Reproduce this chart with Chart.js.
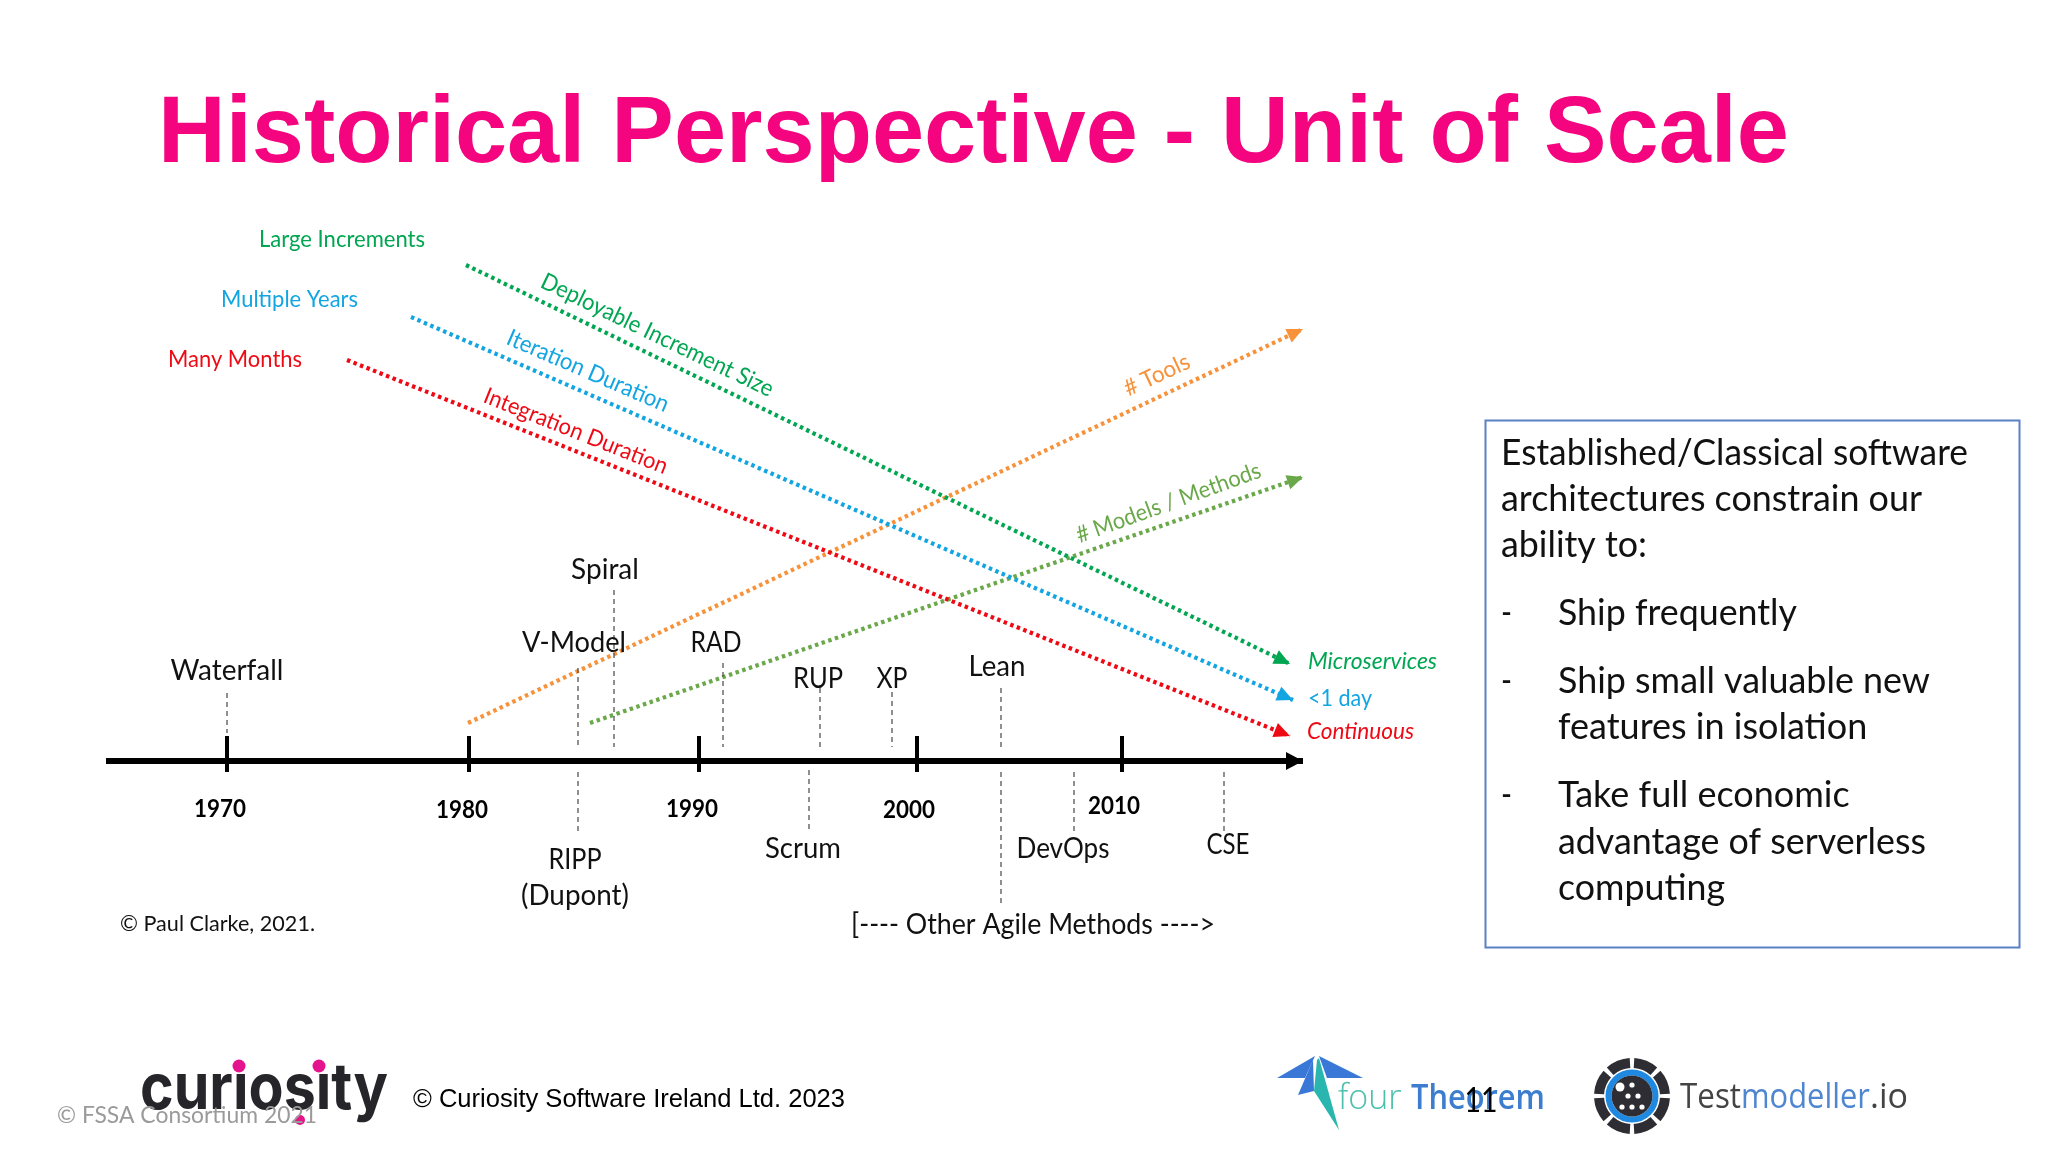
<!DOCTYPE html>
<html>
<head>
<meta charset="utf-8">
<style>
html,body{margin:0;padding:0;background:#fff;width:2048px;height:1152px;overflow:hidden}
#wrap{position:absolute;left:0;top:0;width:2048px;height:1152px}
canvas{display:block}
</style>
<script src="https://cdn.jsdelivr.net/npm/chart.js@4/dist/chart.umd.min.js"></script>
</head>
<body>
<div id="wrap"><canvas id="c" width="2048" height="1152"></canvas></div>
<script>
// ---- Series: schematic trend arrows, [start, end] (slide units)
const deployableX = [466, 1290];  const deployableY = [265, 664];
const iterationX  = [411, 1293];  const iterationY  = [317, 700];
const integrationX= [347, 1290];  const integrationY= [360, 736];
const toolsX      = [468, 1303];  const toolsY      = [723, 329];
const modelsX     = [590, 1303];  const modelsY     = [723, 477];

// ---- Timeline
const timelineX = [106, 1303];    const timelineY = [761, 761];
const decadeLabels = ['1970','1980','1990','2000','2010'];
const decadeX = [227, 469, 699, 917, 1122];
const decadeLabelX = [220, 462, 692, 909, 1114];
const decadeLabelY = [817, 818, 817, 818, 814];
const tickTop = 736, tickBottom = 772;

// ---- Methods and their leader lines
const methodNames = ['Waterfall','V-Model','Spiral','RAD','RUP','XP','Lean','Scrum','DevOps','CSE','RIPP','(Dupont)','[---- Other Agile Methods ---->'];
const methodLabelX = [227, 574, 605, 716, 818, 892, 997, 803, 1063, 1228, 575, 575, 1033];
const methodLabelY = [680, 652, 579, 652, 688, 688, 676, 858, 858, 854, 869, 905, 934];
const methodWidth  = [113, 104, 68, 51, 50, 31, 57, 76, 93, 43, 53, 108, 364];
const leaderX    = [227, 578, 614, 723, 820, 892, 1001, 578, 809, 1001, 1074, 1224];
const leaderTop  = [693, 668, 590, 663, 688, 692, 688, 772, 770, 772, 772, 772];
const leaderBot  = [733, 748, 747, 747, 748, 747, 748, 833, 831, 905, 833, 833];

const colGreen='#00a651', colBlue='#12a5e2', colRed='#ee0a14', colOrange='#f7923a', colLime='#6aa84a';

const labelFont = '"Lato"';
const textItems = [
 // text, x, y, font, colour, align, angleDeg, maxWidth
 ['Large Increments',259,247,'22.5px '+labelFont,colGreen,'left',0,166],
 ['Multiple Years',221,307,'22.5px '+labelFont,colBlue,'left',0,137],
 ['Many Months',168,367,'22.5px '+labelFont,colRed,'left',0,134],
 ['Deployable Increment Size',654,342,'23.5px '+labelFont,colGreen,'center',25.7,255],
 ['Iteration Duration',585,378,'23.5px '+labelFont,colBlue,'center',23.3,174],
 ['Integration Duration',573,438,'23px '+labelFont,colRed,'center',21.7,196],
 ['# Tools',1160,382,'23px '+labelFont,colOrange,'center',-25,70],
 ['# Models / Methods',1171,510,'23px '+labelFont,colLime,'center',-20,195],
 ['Microservices',1308,669,'italic 23px '+labelFont,colGreen,'left',0,129],
 ['<1 day',1308,706,'23px '+labelFont,colBlue,'left',0,64],
 ['Continuous',1307,739,'italic 23px '+labelFont,colRed,'left',0,107],
 ['© Paul Clarke, 2021.',120,931,'22px '+labelFont,'#111','left',0,195],
];

const boxLines = [
 ['Established/Classical software',1501,465,467],
 ['architectures constrain our',1501,511,421],
 ['ability to:',1501,557,146],
 ['-',1501,625,11],['Ship frequently',1558,625,239],
 ['-',1501,693,11],['Ship small valuable new',1558,693,372],
 ['features in isolation',1558,739,310],
 ['-',1501,807,11],['Take full economic',1558,807,293],
 ['advantage of serverless',1558,854,368],
 ['computing',1558,900,167],
];

function dashSet(label,xs,ys,color,width,dash){
  return {label,data:xs.map((x,i)=>({x,y:ys[i]})),borderColor:color,backgroundColor:color,borderWidth:width,borderDash:dash,showLine:true,pointRadius:0,fill:false,tension:0};
}
const trends=[
 dashSet('Deployable Increment Size',deployableX,deployableY,colGreen,4.2,[3.5,3.5]),
 dashSet('Iteration Duration',iterationX,iterationY,colBlue,4.2,[3.5,3.5]),
 dashSet('Integration Duration',integrationX,integrationY,colRed,4.2,[3.5,3.5]),
 dashSet('# Tools',toolsX,toolsY,colOrange,4.2,[3.5,3.5]),
 dashSet('# Models / Methods',modelsX,modelsY,colLime,4.2,[3.5,3.5]),
];
const leaders=leaderX.map((x,i)=>dashSet('leader',[x,x],[leaderTop[i],leaderBot[i]],'#555',1.3,[5,4]));
const ticks=decadeX.map((x,i)=>dashSet('tick '+decadeLabels[i],[x,x],[tickTop,tickBottom],'#000',4,[]));
const timeline=dashSet('timeline',timelineX,timelineY,'#000',6,[]);

const overlay={
 id:'overlay',
 afterDatasetsDraw(chart){
  const {ctx,scales:{x:sx,y:sy}}=chart;
  ctx.save();
  ctx.textBaseline='alphabetic';
  const txt=(t,x,y,font,col,al='left',ang=0,mw)=>{
    ctx.save();
    ctx.font=font;ctx.fillStyle=col;ctx.textAlign=al;
    ctx.translate(sx.getPixelForValue(x),sy.getPixelForValue(y));
    if(ang)ctx.rotate(ang*Math.PI/180);
    if(mw)ctx.fillText(t,0,0,mw);else ctx.fillText(t,0,0);
    ctx.restore();
  };
  const arrow=(xs,ys,col,len,w)=>{
    const x1=sx.getPixelForValue(xs[1]),y1=sy.getPixelForValue(ys[1]);
    const x0=sx.getPixelForValue(xs[0]),y0=sy.getPixelForValue(ys[0]);
    const a=Math.atan2(y1-y0,x1-x0);
    ctx.save();ctx.translate(x1,y1);ctx.rotate(a);ctx.fillStyle=col;
    ctx.beginPath();ctx.moveTo(0,0);ctx.lineTo(-len,-w);ctx.lineTo(-len,w);ctx.closePath();ctx.fill();ctx.restore();
  };
  const poly=(p,col)=>{ctx.fillStyle=col;ctx.beginPath();p.forEach((q,i)=>i?ctx.lineTo(q[0],q[1]):ctx.moveTo(q[0],q[1]));ctx.closePath();ctx.fill();};
  arrow(deployableX,deployableY,colGreen,16,7.5);
  arrow(iterationX,iterationY,colBlue,16,7.5);
  arrow(integrationX,integrationY,colRed,16,7.5);
  arrow(toolsX,toolsY,colOrange,16,7.5);
  arrow(modelsX,modelsY,colLime,16,7.5);
  arrow(timelineX,timelineY,'#000',17,9);

  // title
  txt('Historical Perspective - Unit of Scale',158,162,'bold 94px "Liberation Sans"','#f4047f','left',0,1631);
  textItems.forEach(t=>txt(...t));
  decadeLabels.forEach((l,i)=>txt(l,decadeLabelX[i],decadeLabelY[i],'bold 24.5px '+labelFont,'#000','center',0,52));
  methodNames.forEach((l,i)=>txt(l,methodLabelX[i],methodLabelY[i],'28px '+labelFont,'#111','center',0,methodWidth[i]));

  // box
  ctx.strokeStyle='#5b80c4';ctx.lineWidth=2;
  ctx.strokeRect(1485.5,420.5,534,527);
  boxLines.forEach(b=>txt(b[0],b[1],b[2],'36px '+labelFont,'#111','left',0,b[3]));

  // footer: curiosity logo
  txt('curiosity',140,1109,'700 64px "Inter"','#26262a','left',0,248);
  ctx.fillStyle='#ffffff';
  ctx.fillRect(228,1056,22,17);ctx.fillRect(308,1056,22,17);
  ctx.fillStyle='#e5148c';
  [[239,1066,6.5],[319,1066,6.5],[300,1120,5]].forEach(d=>{ctx.beginPath();ctx.arc(d[0],d[1],d[2],0,7);ctx.fill();});
  txt('© FSSA Consortium 2021',57,1123,'24px '+labelFont,'#9a9a9a','left',0,260);
  txt('© Curiosity Software Ireland Ltd. 2023',413,1107,'26px "Liberation Sans"','#000','left',0,432);

  // fourTheorem logo
  poly([[1277,1078],[1315,1056],[1305,1078]],'#3a78d8');
  poly([[1319,1056],[1363,1078],[1327,1078]],'#3a78d8');
  poly([[1313,1060],[1298,1095],[1314,1091]],'#3a78d8');
  poly([[1319,1058],[1339,1130],[1314,1091],[1317,1060]],'#29b6ae');
  txt('four',1338,1109,'300 34px "Open Sans"','#4cc0ac','left',0,66);
  txt('Theorem',1411,1109,'600 34px "Open Sans"','#3d7dcf','left',0,134);
  txt('11',1481,1112,'34px '+labelFont,'#000','center',0,33);

  // Testmodeller logo
  ctx.lineWidth=10;ctx.strokeStyle='#2d2d33';
  for(let k=0;k<8;k++){ctx.beginPath();ctx.arc(1632,1096,33,(k*45+3.5)*Math.PI/180,((k+1)*45-3.5)*Math.PI/180);ctx.stroke();}
  ctx.lineWidth=6;ctx.strokeStyle='#1f88e0';
  ctx.beginPath();ctx.arc(1632,1096,23.5,0,7);ctx.stroke();
  ctx.fillStyle='#2d2d33';ctx.beginPath();ctx.arc(1632,1096,20.5,0,7);ctx.fill();
  ctx.fillStyle='#ffffff';
  [[1632,1085],[1628,1096],[1638,1096],[1622,1107],[1632,1107],[1642,1107]].forEach(d=>{ctx.beginPath();ctx.arc(d[0],d[1],2.6,0,7);ctx.fill();});
  ctx.beginPath();ctx.arc(1620,1087,4.5,0,7);ctx.fill();
  txt('Test',1680,1108,'34px "Open Sans"','#444','left',0,61);
  txt('modeller',1741,1108,'34px "Open Sans"','#4f86d0','left',0,129);
  txt('.io',1870,1108,'34px "Open Sans"','#444','left',0,38);
  ctx.restore();
 }
};

new Chart(document.getElementById('c'),{
 type:'scatter',
 data:{datasets:[...leaders,...trends,timeline,...ticks]},
 options:{
  responsive:false,animation:false,devicePixelRatio:1,
  layout:{padding:0},
  plugins:{legend:{display:false},tooltip:{enabled:false},title:{display:false}},
  scales:{
   x:{type:'linear',min:0,max:2048,display:false},
   y:{type:'linear',min:0,max:1152,reverse:true,display:false}
  }
 },
 plugins:[overlay]
});
</script>
</body>
</html>
